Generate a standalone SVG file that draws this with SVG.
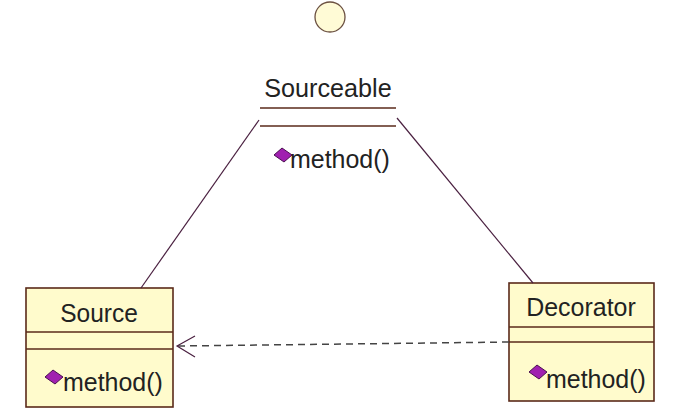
<svg xmlns="http://www.w3.org/2000/svg" width="694" height="412" viewBox="0 0 694 412">
<style>
.box{fill:#fffbcc;stroke:#5a2a1a;stroke-width:1.6}
.sep{stroke:#5a2a1a;stroke-width:1.6}
.t{font-family:"Liberation Sans",Arial,sans-serif;font-size:24px;fill:#222}
.dia{fill:#a020b0;stroke:#4a1050;stroke-width:1}
.ln{fill:none;stroke:#4a2040;stroke-width:1.2}
.dash{fill:none;stroke:#444;stroke-width:1.5;stroke-dasharray:7,5}
</style>
<rect width="694" height="412" fill="#ffffff"/>
<g id="Sourceable">
<circle cx="330" cy="17" r="15" fill="#fffbd6" stroke="#6b5040" stroke-width="1.3"/>
<text class="t" x="328" y="97" text-anchor="middle" transform="translate(328 97) scale(1.05 1.1) translate(-328 -97)">Sourceable</text>
<line class="sep" x1="260" y1="108" x2="396" y2="108"/>
<line class="sep" x1="260" y1="126" x2="396" y2="126"/>
<path class="dia" d="M274 155 L282 148 L292 155 L284 162 Z"/>
<text class="t" x="290" y="168" transform="translate(290 168) scale(1.04 1.1) translate(-290 -168)">method()</text>
</g>
<g id="Source">
<rect class="box" x="26" y="288" width="147" height="119"/>
<line class="sep" x1="26" y1="332" x2="173" y2="332"/>
<line class="sep" x1="26" y1="349" x2="173" y2="349"/>
<text class="t" x="99" y="322" text-anchor="middle" transform="translate(99 322) scale(1.02 1.1) translate(-99 -322)">Source</text>
<path class="dia" d="M45 377 L53 370 L63 377 L55 384 Z"/>
<text class="t" x="63" y="391" transform="translate(63 391) scale(1.04 1.1) translate(-63 -391)">method()</text>
</g>
<g id="Decorator">
<rect class="box" x="509" y="283" width="145" height="118"/>
<line class="sep" x1="509" y1="327" x2="654" y2="327"/>
<line class="sep" x1="509" y1="342" x2="654" y2="342"/>
<text class="t" x="581" y="316" text-anchor="middle" transform="translate(581 316) scale(1.04 1.1) translate(-581 -316)">Decorator</text>
<path class="dia" d="M529 372 L537 365 L547 372 L539 379 Z"/>
<text class="t" x="546" y="388" transform="translate(546 388) scale(1.04 1.1) translate(-546 -388)">method()</text>
</g>
<g id="connectors">
<line class="ln" x1="141" y1="288" x2="259" y2="120"/>
<line class="ln" x1="397" y1="118" x2="533" y2="283"/>
<polyline class="dash" points="509,342 430,343 178,346"/>
<polyline class="ln" points="195,336 177,346 195,357" stroke="#444"/>
</g>
</svg>
